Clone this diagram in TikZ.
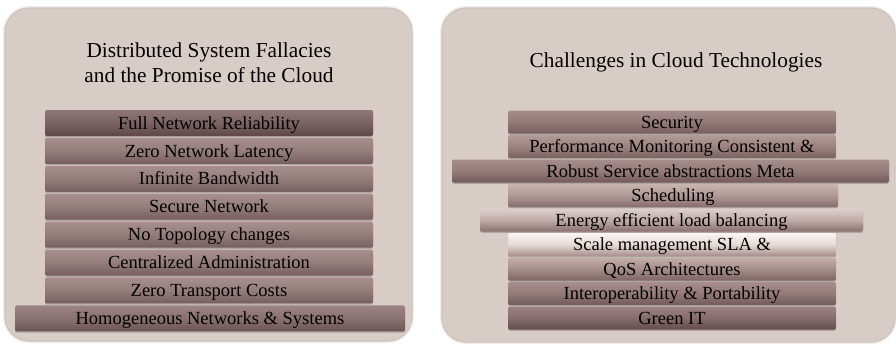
\documentclass[tikz,border=0pt]{standalone}
\usepackage{fontspec}
\setmainfont{Liberation Serif}
\usetikzlibrary{shadows}

% panel colours
\definecolor{panelbg}{HTML}{D7CCC6}
\definecolor{paneledge}{HTML}{CEC2BC}
% bar tones: top / middle / bottom
\definecolor{darkT}{HTML}{8E7676}\definecolor{darkM}{HTML}{7B6264}\definecolor{darkB}{HTML}{5F4749}
\definecolor{midT}{HTML}{A78F8D}\definecolor{midM}{HTML}{957D7C}\definecolor{midB}{HTML}{765E5E}
\definecolor{homT}{HTML}{9C8484}\definecolor{homM}{HTML}{8A7171}\definecolor{homB}{HTML}{6C5455}
\definecolor{secT}{HTML}{A58B89}\definecolor{secM}{HTML}{937978}\definecolor{secB}{HTML}{785F5F}
\definecolor{perT}{HTML}{B29A97}\definecolor{perM}{HTML}{9C8280}\definecolor{perB}{HTML}{7A6261}
\definecolor{robT}{HTML}{A68C8A}\definecolor{robM}{HTML}{957B7A}\definecolor{robB}{HTML}{735A5A}
\definecolor{schT}{HTML}{C8B4B0}\definecolor{schM}{HTML}{B09896}\definecolor{schB}{HTML}{866C6B}
\definecolor{eneT}{HTML}{DDD0CC}\definecolor{eneM}{HTML}{C0ABA8}\definecolor{eneB}{HTML}{8A706E}
\definecolor{scaT}{HTML}{FAF6F4}\definecolor{scaM}{HTML}{E6DAD6}\definecolor{scaB}{HTML}{A58D8A}
\definecolor{qosT}{HTML}{C4AEAA}\definecolor{qosM}{HTML}{A58D8A}\definecolor{qosB}{HTML}{7E6564}
\definecolor{intT}{HTML}{A88F8D}\definecolor{intM}{HTML}{937A79}\definecolor{intB}{HTML}{735B5B}
\definecolor{grnT}{HTML}{9C8281}\definecolor{grnM}{HTML}{866C6C}\definecolor{grnB}{HTML}{644C4D}

\begin{document}
\begin{tikzpicture}[x=1pt,y=-1pt,
  panel/.style={fill=panelbg, draw=paneledge, line width=1.2pt, rounded corners=24pt},
  panelhalo/.style={draw=paneledge, line width=4pt, opacity=0.3, rounded corners=24pt},
  heading/.style={font=\fontsize{21.3}{25.5}\selectfont\color{black}, inner sep=0pt, anchor=base},
  bar/.style={rectangle, rounded corners=2pt, inner sep=0pt,
    font=\fontsize{18.5}{22}\selectfont\color{black}, text height=12.2pt, text depth=0pt,
    drop shadow={shadow xshift=0pt, shadow yshift=-1.3pt, opacity=0.3, fill=black!70}},
  tone/.style n args={3}{top color=#1, bottom color=#3, middle color=#2},
  leftbar/.style={bar, minimum width=328pt, minimum height=26pt},
  rightbar/.style={bar, minimum width=328pt, minimum height=23pt}
]
\useasboundingbox (0,0) rectangle (896,343);

% ---- left panel ----
\draw[panelhalo] (5,8) rectangle (412,341);
\filldraw[panel] (5,8) rectangle (412,341);
\node[heading] (ltitle1) at (209,57) {Distributed System Fallacies};
\node[heading] (ltitle2) at (209,82.5) {and the Promise of the Cloud};

\node[leftbar, tone={darkT}{darkM}{darkB}] (l1) at (209,123)   {Full Network Reliability};
\node[leftbar, tone={midT}{midM}{midB}]    (l2) at (209,150.9) {Zero Network Latency};
\node[leftbar, tone={midT}{midM}{midB}]    (l3) at (209,178.8) {Infinite Bandwidth};
\node[leftbar, tone={midT}{midM}{midB}]    (l4) at (209,206.7) {Secure Network};
\node[leftbar, tone={midT}{midM}{midB}]    (l5) at (209,234.6) {No Topology changes};
\node[leftbar, tone={midT}{midM}{midB}]    (l6) at (209,262.5) {Centralized Administration};
\node[leftbar, tone={midT}{midM}{midB}]    (l7) at (209,290.4) {Zero Transport Costs};
\node[leftbar, tone={homT}{homM}{homB}, minimum width=390pt] (l8) at (210,318.4) {Homogeneous Networks \& Systems};

% ---- right panel ----
\draw[panelhalo] (442,8) rectangle (895,342);
\filldraw[panel] (442,8) rectangle (895,342);
\node[heading] (rtitle) at (676,67) {Challenges in Cloud Technologies};

\node[rightbar, tone={secT}{secM}{secB}] (r1) at (672,122)   {Security};
\node[rightbar, tone={perT}{perM}{perB}] (r2) at (672,146.5) {Performance Monitoring Consistent \&};
\node[rightbar, tone={robT}{robM}{robB}, minimum width=437pt] (r3) at (670.5,171) {Robust Service abstractions Meta};
\node[rightbar, tone={schT}{schM}{schB}, minimum width=330pt] (r4) at (673,195.5) {Scheduling};
\node[rightbar, tone={eneT}{eneM}{eneB}, minimum width=383pt] (r5) at (671.5,220) {Energy efficient load balancing};
\node[rightbar, tone={scaT}{scaM}{scaB}] (r6) at (672,244.5) {Scale management SLA \&};
\node[rightbar, tone={qosT}{qosM}{qosB}] (r7) at (672,269)   {QoS Architectures};
\node[rightbar, tone={intT}{intM}{intB}] (r8) at (672,293.5) {Interoperability \& Portability};
\node[rightbar, tone={grnT}{grnM}{grnB}] (r9) at (672,318)   {Green IT};
\end{tikzpicture}
\end{document}
